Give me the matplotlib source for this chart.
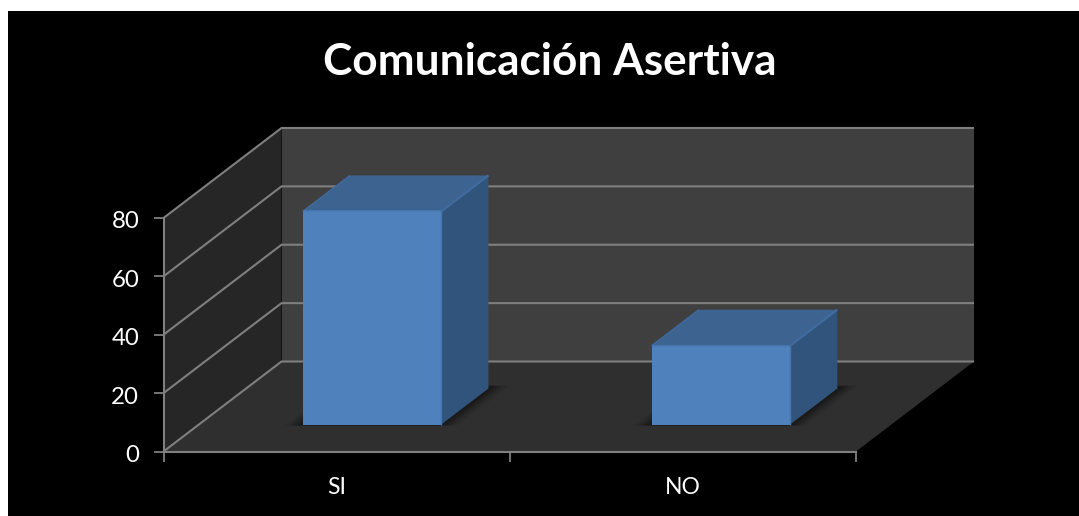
import matplotlib
matplotlib.use("Agg")
import matplotlib.pyplot as plt
from matplotlib.patches import Polygon, Rectangle
from matplotlib.transforms import ScaledTranslation

plt.rcParams['font.family'] = ['Lato', 'DejaVu Sans']

title = "Comunicación Asertiva"
categories = ["SI", "NO"]
values = [73, 27]
y_ticks = [0, 20, 40, 60, 80]

W, H = 1079, 516
fig = plt.figure(figsize=(W / 100, H / 100), dpi=100, facecolor="white")
fig.add_artist(Rectangle((8 / W, 0), 1 - 8 / W, 1 - 11 / H, transform=fig.transFigure,
                         facecolor="black", edgecolor="none", zorder=-10))

L, R, B, T = 163.5, 856, 451.5, 218
ax = fig.add_axes([L / W, 1 - B / H, (R - L) / W, (B - T) / H])
ax.patch.set_alpha(0)
ax.set_xlim(0, len(categories))
ax.set_ylim(y_ticks[0], y_ticks[-1])

# oblique projection: one unit of depth in data units
DX = 118 / ((R - L) / len(categories))
DY = 90 / ((B - T) / y_ticks[-1])


def proj(x, y, z):
    return (x + z * DX, y + z * DY)


def face(pts, **kw):
    kw.setdefault("edgecolor", "none")
    ax.add_patch(Polygon([proj(*p) for p in pts], closed=True, clip_on=False, **kw))


x1 = len(categories)
top = y_ticks[-1]
GRID = "#7f7f7f"

# walls and floor
face([(0, 0, 1), (x1, 0, 1), (x1, top, 1), (0, top, 1)], facecolor="#3f3f3f", zorder=1)
face([(0, 0, 0), (0, 0, 1), (0, top, 1), (0, top, 0)], facecolor="#262626", zorder=1)
face([(0, 0, 0), (x1, 0, 0), (x1, 0, 1), (0, 0, 1)], facecolor="#2f2f2f", zorder=1)

# gridlines
for v in y_ticks:
    xs, ys = zip(proj(0, v, 0), proj(0, v, 1), proj(x1, v, 1))
    ax.plot(xs, ys, color=GRID, lw=1.5, clip_on=False, zorder=2, solid_capstyle="butt")

# bars
WIDTH, Z0, Z1 = 0.4, 0.3, 0.7
for i, v in enumerate(values):
    centre = i * 1.0075 + 0.5
    a, b = centre - WIDTH / 2, centre + WIDTH / 2
    # soft contact shadow on the floor
    for grow, alpha in [(0.05, 0.06), (0.04, 0.08), (0.03, 0.1), (0.02, 0.12), (0.01, 0.15)]:
        face([(a - grow, 0, Z0 - 0.012), (b + grow, 0, Z0 - 0.012),
              (b + grow, 0, Z1 + 0.03), (a - grow, 0, Z1 + 0.03)],
             facecolor="black", alpha=alpha, zorder=3)
    face([(a, v, Z0), (b, v, Z0), (b, v, Z1), (a, v, Z1)], facecolor="#3d6391", zorder=4)
    face([(b, 0, Z0), (b, 0, Z1), (b, v, Z1), (b, v, Z0)], facecolor="#31547c", zorder=4)
    face([(a, 0, Z0), (b, 0, Z0), (b, v, Z0), (a, v, Z0)], facecolor="#4f81bd", zorder=5)
    # bevelled edges
    ax.plot(*zip(proj(b, v, Z0), proj(b, v, Z1)), color="#3f6b9f", lw=1.6, zorder=6, clip_on=False,
            solid_capstyle="butt")
    ax.plot(*zip(proj(a, v, Z0), proj(a, v, Z1)), color="#41699a", lw=1.0, zorder=6, clip_on=False,
            solid_capstyle="butt")
    ax.plot(*zip(proj(a, v, Z0), proj(b, v, Z0)), color="#4a7ab4", lw=1.2, zorder=6, clip_on=False,
            solid_capstyle="butt")
    ax.plot(*zip(proj(b, 0, Z0), proj(b, v, Z0)), color="#4675ad", lw=1.0, zorder=6, clip_on=False,
            solid_capstyle="butt")

# axes
for s in ("top", "right"):
    ax.spines[s].set_visible(False)
for s in ("left", "bottom"):
    ax.spines[s].set_color(GRID)
    ax.spines[s].set_linewidth(1.5)
    ax.spines[s].set_zorder(7)
ax.set_yticks(y_ticks)
ax.set_xticks(range(len(categories) + 1))
ax.set_xticklabels([])
ax.set_xticks([i + 0.5 for i in range(len(categories))], labels=categories, minor=True)
ax.tick_params(axis="both", which="major", color=GRID, width=1.3, length=7, labelcolor="white")
ax.tick_params(axis="y", which="major", labelsize=17.3, pad=10.5)
ax.tick_params(axis="x", which="minor", length=0, labelcolor="white", labelsize=16.5, pad=18.7)
shift = ScaledTranslation(0, -2 / 100, fig.dpi_scale_trans)
for lbl in ax.get_yticklabels():
    lbl.set_transform(lbl.get_transform() + shift)

fig.text(550 / W, 1 - 62 / H, title, color="white", fontsize=31.8, fontweight="bold",
         ha="center", va="center")

fig.savefig("out.png", dpi=100, facecolor="white")
